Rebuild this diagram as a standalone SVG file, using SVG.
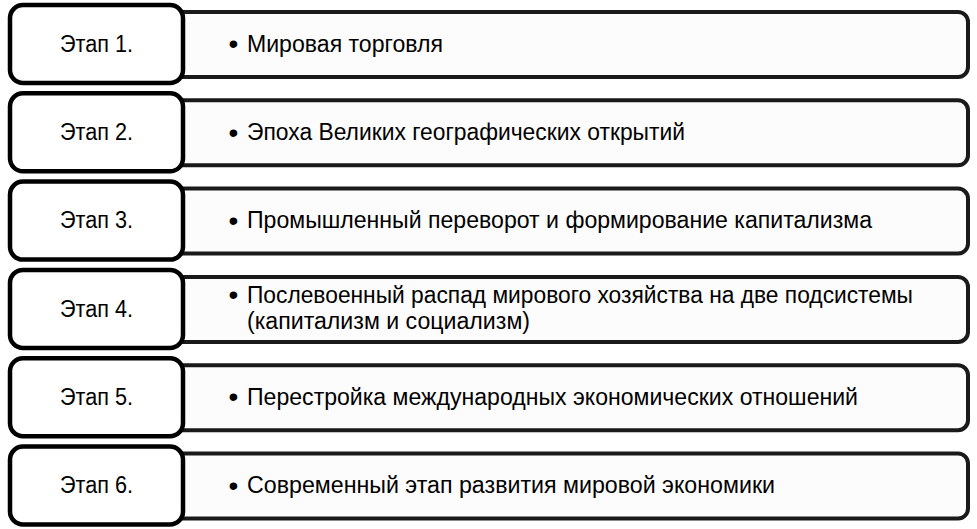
<svg xmlns="http://www.w3.org/2000/svg" width="977" height="529" viewBox="0 0 977 529">
<style>
.rb{fill:#fcfcfc;stroke:#1a1a1a;stroke-width:4}
.lb{fill:#ffffff;stroke:#000000;stroke-width:4.5}
text{font-family:"Liberation Sans",Arial,sans-serif;font-size:23px;fill:#000000}
.lt{text-anchor:middle}
.bu{font-size:28px}
</style>
<rect width="977" height="529" fill="#ffffff"/>
<g id="row1">
<rect class="rb" x="150" y="12" width="818" height="65" rx="10"/>
<rect class="lb" x="10" y="5" width="173" height="78" rx="13"/>
<text class="lt" x="96.5" y="51.7" textLength="73" lengthAdjust="spacingAndGlyphs">Этап 1.</text>
<text class="bu" x="228.5" y="53.2">•</text>
<text x="247" y="51.7" textLength="196" lengthAdjust="spacingAndGlyphs">Мировая торговля</text>
</g>
<g id="row2">
<rect class="rb" x="150" y="100.3" width="818" height="65" rx="10"/>
<rect class="lb" x="10" y="93.3" width="173" height="78" rx="13"/>
<text class="lt" x="96.5" y="140" textLength="73" lengthAdjust="spacingAndGlyphs">Этап 2.</text>
<text class="bu" x="228.5" y="141.5">•</text>
<text x="247" y="140" textLength="438" lengthAdjust="spacingAndGlyphs">Эпоха Великих географических открытий</text>
</g>
<g id="row3">
<rect class="rb" x="150" y="188.6" width="818" height="65" rx="10"/>
<rect class="lb" x="10" y="181.6" width="173" height="78" rx="13"/>
<text class="lt" x="96.5" y="228.3" textLength="73" lengthAdjust="spacingAndGlyphs">Этап 3.</text>
<text class="bu" x="228.5" y="229.8">•</text>
<text x="247" y="228.3" textLength="625" lengthAdjust="spacingAndGlyphs">Промышленный переворот и формирование капитализма</text>
</g>
<g id="row4">
<rect class="rb" x="150" y="276.9" width="818" height="65" rx="10"/>
<rect class="lb" x="10" y="269.9" width="173" height="78" rx="13"/>
<text class="lt" x="96.5" y="316.6" textLength="73" lengthAdjust="spacingAndGlyphs">Этап 4.</text>
<text class="bu" x="228.5" y="304.3">•</text>
<text><tspan x="247" y="302.8" textLength="666" lengthAdjust="spacingAndGlyphs">Послевоенный распад мирового хозяйства на две подсистемы</tspan><tspan x="247" y="328.8" textLength="283" lengthAdjust="spacingAndGlyphs">(капитализм и социализм)</tspan></text>
</g>
<g id="row5">
<rect class="rb" x="150" y="365.2" width="818" height="65" rx="10"/>
<rect class="lb" x="10" y="358.2" width="173" height="78" rx="13"/>
<text class="lt" x="96.5" y="404.9" textLength="73" lengthAdjust="spacingAndGlyphs">Этап 5.</text>
<text class="bu" x="228.5" y="406.4">•</text>
<text x="247" y="404.9" textLength="611" lengthAdjust="spacingAndGlyphs">Перестройка международных экономических отношений</text>
</g>
<g id="row6">
<rect class="rb" x="150" y="453.5" width="818" height="65" rx="10"/>
<rect class="lb" x="10" y="446.5" width="173" height="78" rx="13"/>
<text class="lt" x="96.5" y="493.2" textLength="73" lengthAdjust="spacingAndGlyphs">Этап 6.</text>
<text class="bu" x="228.5" y="494.7">•</text>
<text x="247" y="493.2" textLength="528" lengthAdjust="spacingAndGlyphs">Современный этап развития мировой экономики</text>
</g>
<g id="connectors"></g>
</svg>
